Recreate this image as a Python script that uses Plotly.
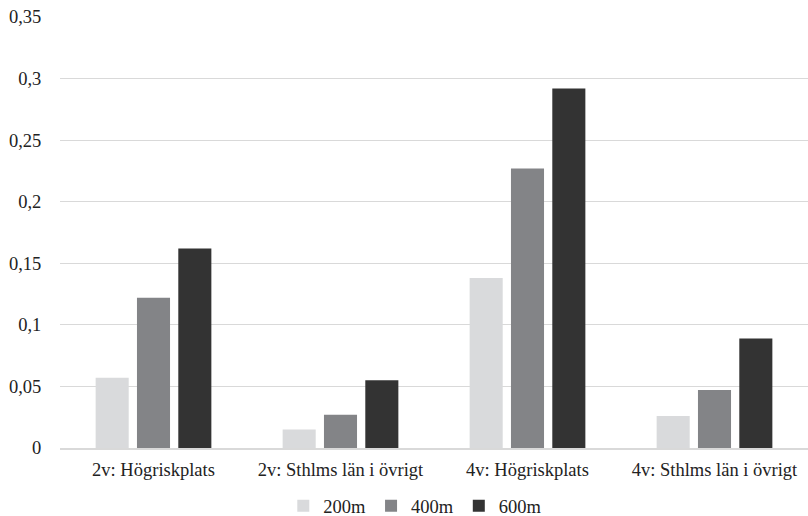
import plotly.graph_objects as go

categories = ["2v: Högriskplats", "2v: Sthlms län i övrigt", "4v: Högriskplats", "4v: Sthlms län i övrigt"]
series_names = ["200m", "400m", "600m"]
v200 = [0.057, 0.015, 0.138, 0.026]
v400 = [0.122, 0.027, 0.227, 0.047]
v600 = [0.162, 0.055, 0.292, 0.089]
colors = ["#D9DADC", "#838487", "#333333"]
tick_vals = [0, 0.05, 0.1, 0.15, 0.2, 0.25, 0.3, 0.35]
tick_text = ["0", "0,05", "0,1", "0,15", "0,2", "0,25", "0,3", "0,35"]

font = "Liberation Serif, DejaVu Serif, serif"
fsize = 18.5

fig = go.Figure()
for name, vals, col in zip(series_names, [v200, v400, v600], colors):
    fig.add_trace(go.Bar(x=categories, y=vals, name=name,
                         marker=dict(color=col, line=dict(width=0))))

fig.update_layout(
    width=808, height=516,
    margin=dict(l=60, r=0, t=17, b=68, autoexpand=False),
    paper_bgcolor="white", plot_bgcolor="white",
    barmode="group", bargap=0.337, bargroupgap=0.2,
    font=dict(family=font, size=fsize, color="#222222"),
    showlegend=True,
    legend=dict(orientation="h", x=0.475, xanchor="center", y=-0.135, yanchor="middle",
                font=dict(family=font, size=fsize, color="#222222"),
                itemwidth=30, traceorder="normal", tracegroupgap=0),
    xaxis=dict(showgrid=False, showline=True, linecolor="#D9D9D9", linewidth=2,
               ticks="outside", ticklen=4, tickcolor="rgba(0,0,0,0)",
               automargin=False, tickfont=dict(family=font, size=fsize)),
    yaxis=dict(range=[0, 0.35], tickvals=tick_vals, ticktext=tick_text,
               showgrid=True, gridcolor="#D9D9D9", gridwidth=1,
               zeroline=False, showline=False, ticks="outside", ticklen=14,
               tickcolor="rgba(0,0,0,0)", automargin=False,
               tickfont=dict(family=font, size=fsize)),
)

fig.write_html("out.html", config={"displayModeBar": False},
               post_script="document.body.style.margin='0';document.body.style.overflow='hidden';")
